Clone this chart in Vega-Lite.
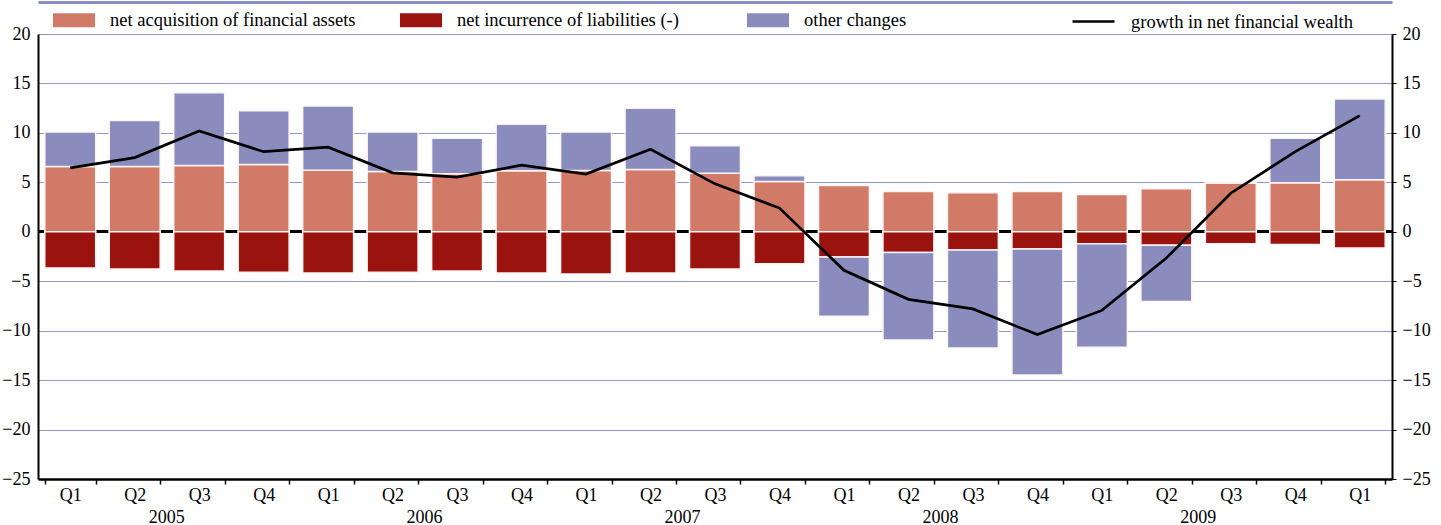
{
  "$schema": "https://vega.github.io/schema/vega-lite/v6.json",
  "width": 1354,
  "height": 445,
  "autosize": {"type": "none"},
  "padding": {"left": 38, "top": 34, "right": 49, "bottom": 46},
  "config": {
    "font": "Liberation Serif",
    "view": {"stroke": null},
    "axis": {"labelFont": "Liberation Serif", "labelFontSize": 18, "labelColor": "black", "titleFont": "Liberation Serif"},
    "legend": {"labelFont": "Liberation Serif", "labelFontSize": 18.5, "labelColor": "black", "labelLimit": 500}
  },
  "data": {
    "values": [
      {"q": "2005 Q1", "assets": 6.6, "liab": -3.67, "other": 3.5, "growth": 6.46},
      {"q": "2005 Q2", "assets": 6.6, "liab": -3.77, "other": 4.65, "growth": 7.5},
      {"q": "2005 Q3", "assets": 6.7, "liab": -3.97, "other": 7.37, "growth": 10.2},
      {"q": "2005 Q4", "assets": 6.8, "liab": -4.1, "other": 5.45, "growth": 8.1},
      {"q": "2006 Q1", "assets": 6.23, "liab": -4.17, "other": 6.5, "growth": 8.55},
      {"q": "2006 Q2", "assets": 6.1, "liab": -4.1, "other": 4.0, "growth": 5.96},
      {"q": "2006 Q3", "assets": 5.86, "liab": -3.97, "other": 3.6, "growth": 5.52},
      {"q": "2006 Q4", "assets": 6.16, "liab": -4.17, "other": 4.72, "growth": 6.73},
      {"q": "2007 Q1", "assets": 6.2, "liab": -4.27, "other": 3.9, "growth": 5.83},
      {"q": "2007 Q2", "assets": 6.3, "liab": -4.17, "other": 6.2, "growth": 8.35},
      {"q": "2007 Q3", "assets": 5.93, "liab": -3.77, "other": 2.76, "growth": 4.85},
      {"q": "2007 Q4", "assets": 5.08, "liab": -3.23, "other": 0.58, "growth": 2.4},
      {"q": "2008 Q1", "assets": 4.68, "liab": -2.56, "other": -5.99, "growth": -3.9},
      {"q": "2008 Q2", "assets": 4.07, "liab": -2.09, "other": -8.85, "growth": -6.83},
      {"q": "2008 Q3", "assets": 3.94, "liab": -1.85, "other": -9.9, "growth": -7.8},
      {"q": "2008 Q4", "assets": 4.07, "liab": -1.75, "other": -12.73, "growth": -10.4},
      {"q": "2009 Q1", "assets": 3.77, "liab": -1.21, "other": -10.47, "growth": -7.95},
      {"q": "2009 Q2", "assets": 4.34, "liab": -1.35, "other": -5.69, "growth": -2.66},
      {"q": "2009 Q3", "assets": 4.92, "liab": -1.21, "other": 0.1, "growth": 3.9},
      {"q": "2009 Q4", "assets": 4.95, "liab": -1.28, "other": 4.51, "growth": 8.11},
      {"q": "2010 Q1", "assets": 5.25, "liab": -1.65, "other": 8.18, "growth": 11.75}
    ]
  },
  "resolve": {"axis": {"x": "independent", "y": "independent"}},
  "layer": [
    {
      "mark": {"type": "point", "opacity": 0},
      "encoding": {
        "x": {"field": "q", "type": "ordinal", "scale": {"paddingInner": 0.21, "paddingOuter": 0.105},
          "axis": {"orient": "top", "offset": 32, "labels": false, "ticks": false, "title": null, "domainColor": "#8A8DC0", "domainWidth": 3}},
        "y": {"field": "growth", "type": "quantitative", "scale": {"domain": [-25, 20], "nice": false, "zero": false}, "axis": null}
      }
    },
    {
      "mark": {"type": "rule", "color": "black", "strokeWidth": 2.5},
      "encoding": {
        "y": {"datum": 0, "type": "quantitative", "scale": {"domain": [-25, 20], "nice": false, "zero": false}, "axis": null}
      }
    },
    {
      "transform": [{"fold": ["assets", "liab", "other"], "as": ["key", "value"]}],
      "mark": {"type": "bar", "stroke": "#FFF4F4", "strokeWidth": 1.5, "strokeOpacity": 1},
      "encoding": {
        "x": {"field": "q", "type": "ordinal", "scale": {"paddingInner": 0.21, "paddingOuter": 0.105},
          "axis": {"orient": "bottom", "title": null, "labelAngle": 0, "tickBand": "extent", "tickSize": 5, "tickColor": "black", "tickWidth": 1.5,
            "domainColor": "black", "domainWidth": 2.5, "labelPadding": 2,
            "labelExpr": "split(datum.label, ' ')[1]"}},
        "y": {"field": "value", "type": "quantitative", "stack": "zero",
          "scale": {"domain": [-25, 20], "nice": false, "zero": false},
          "axis": {"orient": "left", "title": null, "values": [-25, -20, -15, -10, -5, 0, 5, 10, 15, 20], "ticks": false, "labelPadding": 8,
            "grid": true, "gridColor": "#9497CB", "gridWidth": 1, "domainColor": "black", "domainWidth": 2}},
        "fill": {"field": "key", "type": "nominal",
          "scale": {"domain": ["assets", "liab", "other"], "range": ["#D07A67", "#9B130E", "#898CBC"]},
          "legend": {"title": null, "orient": "none", "legendX": 15, "legendY": -35, "direction": "horizontal", "columns": 3,
            "gridAlign": "all", "columnPadding": 44, "padding": 0, "symbolType": "M-1,-0.333H1V0.333H-1Z", "symbolSize": 1764,
            "symbolStrokeWidth": 0, "symbolOpacity": 1, "labelOffset": 15,
            "labelExpr": "datum.value == 'assets' ? 'net acquisition of financial assets' : datum.value == 'liab' ? 'net incurrence of liabilities (-)' : 'other changes'"}},
        "order": {"field": "key"}
      }
    },
    {
      "mark": {"type": "line", "strokeWidth": 2.7},
      "encoding": {
        "x": {"field": "q", "type": "ordinal", "scale": {"paddingInner": 0.21, "paddingOuter": 0.105},
          "axis": {"orient": "bottom", "title": null, "labelAngle": 0, "ticks": false, "domain": false, "labelPadding": 29, "labelOffset": 32,
            "values": ["2005 Q2", "2006 Q2", "2007 Q2", "2008 Q2", "2009 Q2"],
            "labelExpr": "split(datum.label, ' ')[0]"}},
        "y": {"field": "growth", "type": "quantitative",
          "scale": {"domain": [-25, 20], "nice": false, "zero": false},
          "axis": {"orient": "right", "title": null, "values": [-25, -20, -15, -10, -5, 0, 5, 10, 15, 20], "tickSize": 4, "tickColor": "black",
            "labelPadding": 6, "grid": false, "domainColor": "black", "domainWidth": 2}},
        "stroke": {"datum": "growth in net financial wealth", "type": "nominal",
          "scale": {"range": ["black"]},
          "legend": {"title": null, "orient": "none", "legendX": 1033, "legendY": -35, "padding": 0,
            "symbolType": "M-1,0H1", "symbolSize": 1764, "symbolStrokeWidth": 2.5, "labelOffset": 15}}
      }
    }
  ]
}
